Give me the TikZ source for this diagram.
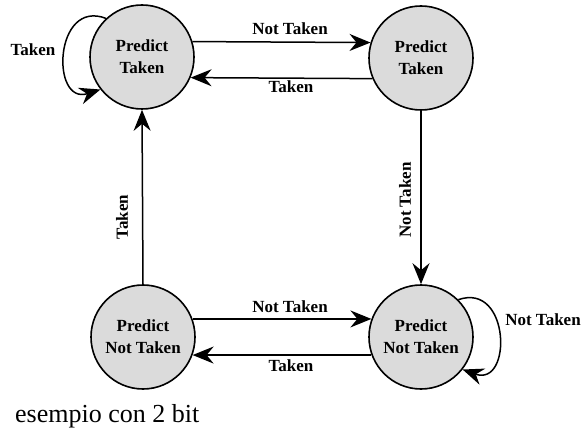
\documentclass[tikz,border=0pt]{standalone}
\usepackage{fontspec}
\setmainfont{Liberation Serif}
\usetikzlibrary{arrows.meta}
\begin{document}
\begin{tikzpicture}[x=1pt,y=-1pt,
  state/.style={circle,draw=black,line width=1.6pt,fill=black!14,
    minimum size=104pt,inner sep=0pt,align=center,
    font=\fontsize{17}{18}\selectfont\bfseries},
  lbl/.style={font=\fontsize{17}{18}\selectfont\bfseries,inner sep=0pt},
  trans/.style={line width=1.5pt,
    -{Stealth[length=21pt,width=17pt,inset=7pt]}}]
  \useasboundingbox (0,0) rectangle (583,430);

  % the four predictor states
  \node[state] (tl) at (142,57)  {Predict\\[4pt]Taken};
  \node[state] (tr) at (421,58)  {Predict\\[4pt]Taken};
  \node[state] (bl) at (143,337) {Predict\\[4pt]Not Taken};
  \node[state] (br) at (421,337) {Predict\\[4pt]Not Taken};

  % horizontal transitions
  \draw[trans] (tl.17) -- (tr.163);
  \draw[trans] (tr.-157) -- (tl.-23);
  \draw[trans] (bl.20) -- (br.160);
  \draw[trans] (br.-160) -- (bl.-20);

  % vertical transitions
  \draw[trans] (bl.north) -- (tl.south);
  \draw[trans] (tr.south) -- (br.north);

  % self loops
  \draw[trans] (tl.133) .. controls +(-52,-20) and +(-50,16) .. (tl.218);
  \draw[trans] (br.45) .. controls +(52,-18) and +(50,18) .. (br.-38);

  % transition labels
  \node[lbl] at (290,29)  {Not Taken};
  \node[lbl] at (291,87)  {Taken};
  \node[lbl] at (290,307) {Not Taken};
  \node[lbl] at (291,366) {Taken};
  \node[lbl,rotate=90] at (122,217) {Taken};
  \node[lbl,rotate=90] at (405,200) {Not Taken};
  \node[lbl] at (33,50)  {Taken};
  \node[lbl] at (543,320) {Not Taken};

  % caption
  \node[anchor=base west,inner sep=0pt,font=\fontsize{26}{28}\selectfont]
    (cap) at (15,422) {esempio con 2 bit};
\end{tikzpicture}
\end{document}
